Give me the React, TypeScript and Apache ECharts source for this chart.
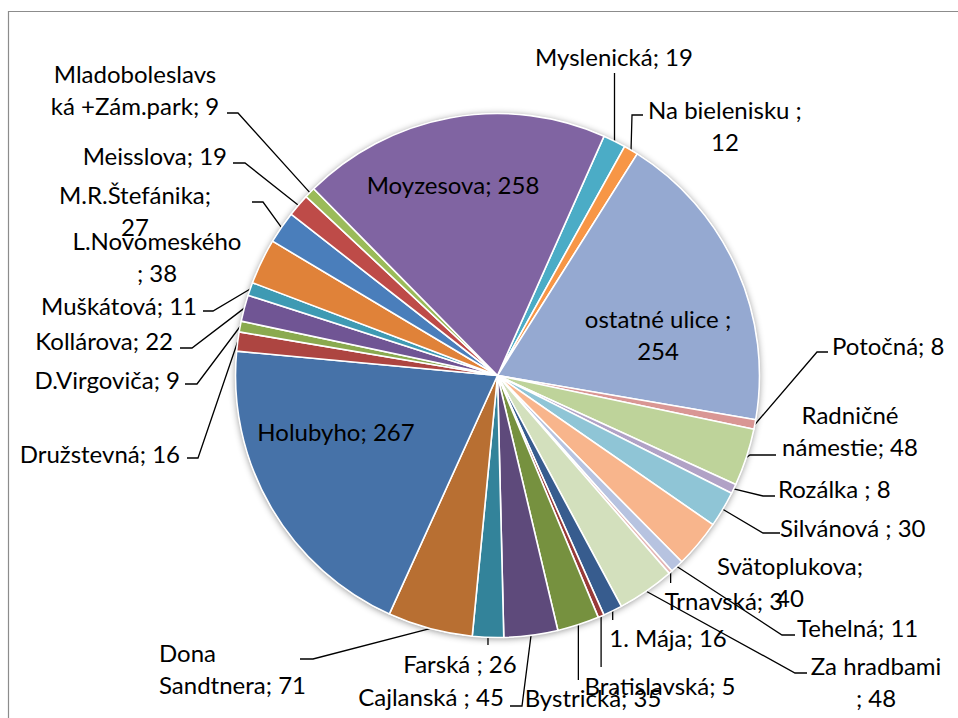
import React, { useEffect, useRef } from "react";
import * as echarts from "echarts";

// Slices in clockwise order, starting just right of 12 o'clock
const categories = [
  "Myslenická", "Na bielenisku ", "ostatné ulice ", "Potočná", "Radničné námestie",
  "Rozálka ", "Silvánová ", "Svätoplukova", "Tehelná", "Trnavská", "Za hradbami ",
  "1. Mája", "Bratislavská", "Bystrická", "Cajlanská ", "Farská ", "Dona Sandtnera",
  "Holubyho", "Družstevná", "D.Virgoviča", "Kollárova", "Muškátová", "L.Novomeského ",
  "M.R.Štefánika", "Meisslova", "Mladoboleslavská +Zám.park", "Moyzesova",
];
const values = [19, 12, 254, 8, 48, 8, 30, 40, 11, 3, 48, 16, 5, 35, 45, 26, 71, 267, 16, 9, 22, 11, 38, 27, 19, 9, 258];
const colors = [
  "#4BACC6", "#F79646", "#95A9D1", "#D99694", "#BED39A", "#B1A2C6", "#8FC5D6", "#F8B58C",
  "#B7C3E0", "#E4B5B4", "#D3E0BD", "#375C8E", "#983A38", "#76913F", "#5E4A7B", "#33839A",
  "#B86F32", "#4672A8", "#AD4541", "#8AAA4F", "#705594", "#3E9AB3", "#E08239", "#4A7EBB",
  "#BE4B48", "#9BBB59", "#8064A2",
];
// first line of a wrapped label ("" = single line)
const firstLines = [
  "", "Na bielenisku ;", "ostatné ulice ;", "", "Radničné", "", "", "Svätoplukova;", "", "", "Za hradbami",
  "", "", "", "", "", "Dona", "", "", "", "", "", "L.Novomeského", "M.R.Štefánika;", "", "Mladoboleslavs", "",
];

// label layout (pixel anchors of the label text, not data)
const labelAnchors: [number, number, string][] = [
  [614, 56, "center"], [725, 125, "center"], [658, 334, "center"], [832, 345, "left"],
  [850, 430, "center"], [778, 488, "left"], [780, 527, "left"], [790, 581, "center"],
  [797, 627, "left"], [724, 600, "center"], [876, 681, "center"], [668, 637, "center"],
  [660, 685, "center"], [593, 697, "center"], [431, 696, "center"], [460, 663, "center"],
  [159, 668, "left"], [336, 431, "center"], [180, 453, "right"], [180, 379, "right"],
  [173, 340, "right"], [197, 305, "right"], [157, 256, "center"], [135, 210, "center"],
  [227, 155, "right"], [135, 89, "center"], [453, 184, "center"],
];
// leader lines: null = none, [y] = vertical to y, [ex, ey, tx, ty] = elbow + text end
const leaders: (number[] | null)[] = [
  [73], [632, 115, 643, 115], null, [817, 352, 828, 352], [750, 455, 776, 455],
  [763, 496, 775, 496], [763, 533, 780, 533], null, [782, 635, 795, 635], [583],
  [795, 673, 807, 673], [620], [667], [680], [522, 706, 510, 706], [645],
  [313, 659, 300, 659], null, [198, 458, 187, 458], [197, 384, 185, 384],
  [192, 348, 180, 348], [213, 311, 203, 311], null, [263, 202, 252, 202],
  [245, 163, 233, 163], [238, 113, 227, 113], null,
];

const CX = 497.5;
const CY = 375.5;
const R = 262;
const START = 66; // degrees, ECharts convention

function labelText(i: number): string {
  const full = `${categories[i]}; ${values[i]}`;
  const f = firstLines[i];
  if (f && full.startsWith(f)) return f + "\n" + full.slice(f.length).trim();
  return full;
}

function edgePoint(i: number): number[] {
  const total = values.reduce((a, b) => a + b, 0);
  let cum = 0;
  for (let k = 0; k < i; k++) cum += values[k];
  const mid = (cum + values[i] / 2) / total * 360;
  const ang = ((START - mid) * Math.PI) / 180;
  return [CX + R * Math.cos(ang), CY - R * Math.sin(ang)];
}

export default function App() {
  const ref = useRef<HTMLDivElement>(null);
  useEffect(() => {
    document.body.style.margin = "0";
    const chart = echarts.init(ref.current!, null, { renderer: "svg" });
    const font = "Lato, 'Noto Sans', sans-serif";
    chart.setOption({
      animation: false,
      backgroundColor: "#ffffff",
      graphic: [
        {
          type: "rect",
          shape: { x: 8.5, y: 11.5, width: 1200, height: 900 },
          style: { fill: "none", stroke: "#8c8c8c", lineWidth: 1.2 },
          z: 0,
        },
      ],
      series: [
        {
          type: "pie",
          silent: true,
          z: 1,
          center: [CX, CY],
          radius: R,
          label: { show: false },
          labelLine: { show: false },
          itemStyle: { color: "#ffffff", shadowBlur: 7, shadowColor: "rgba(0,0,0,0.45)", shadowOffsetY: 1 },
          data: [{ value: 1 }],
        },
        {
          type: "pie",
          z: 2,
          center: [CX, CY],
          radius: R,
          startAngle: START,
          clockwise: true,
          avoidLabelOverlap: false,
          itemStyle: { borderColor: "#ffffff", borderWidth: 1.6 },
          label: {
            show: true,
            position: "outside",
            color: "#000000",
            fontFamily: font,
            fontSize: 24,
            lineHeight: 32,
            formatter: (p: any) => labelText(p.dataIndex),
          },
          labelLine: { show: true, lineStyle: { color: "#000000", width: 1.3 } },
          labelLayout: (p: any) => {
            const i = p.dataIndex;
            const [x, y, align] = labelAnchors[i];
            const res: any = { x, y, align, verticalAlign: "middle" };
            const L = leaders[i];
            if (L) {
              const e = edgePoint(i);
              if (L.length === 1) {
                res.labelLinePoints = [e, [e[0], L[0]], [e[0], L[0]]];
              } else {
                res.labelLinePoints = [e, [L[0], L[1]], [L[2], L[3]]];
              }
            }
            return res;
          },
          data: categories.map((name, i) => ({
            name,
            value: values[i],
            itemStyle: { color: colors[i] },
            labelLine: { show: leaders[i] !== null },
          })),
        },
      ],
    });
    return () => chart.dispose();
  }, []);
  return <div ref={ref} style={{ width: 958, height: 718 }} />;
}
